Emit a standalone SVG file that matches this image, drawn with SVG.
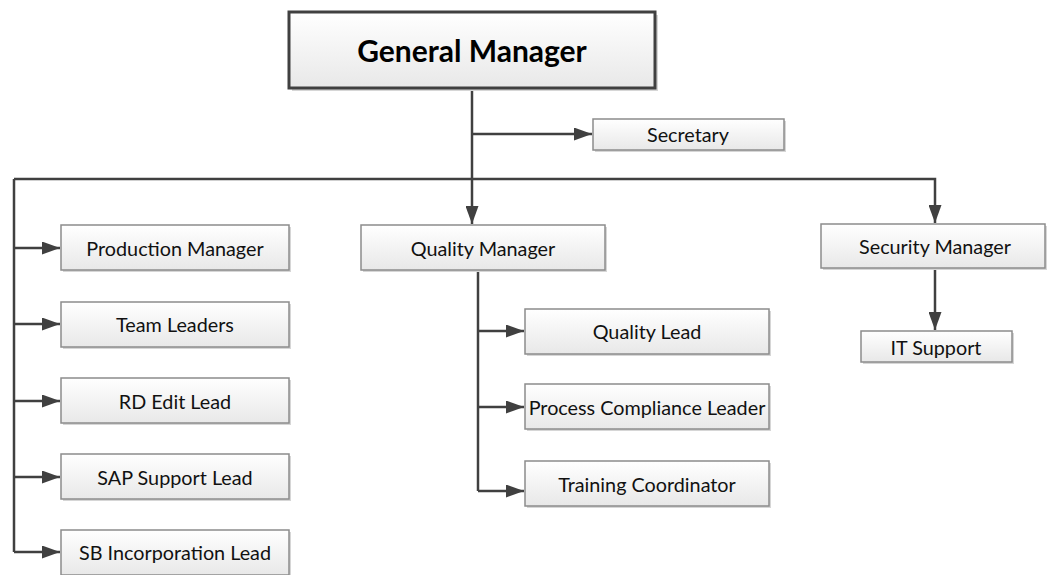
<svg xmlns="http://www.w3.org/2000/svg" width="1047" height="575" viewBox="0 0 1047 575">
<style>
.box{fill:url(#g);stroke:#8c8c8c;stroke-width:1.5}
.gm{fill:url(#g);stroke:#404040;stroke-width:3}
.sh{fill:#d6d6d6}
.t{font-family:Lato,"Open Sans",sans-serif;font-size:19.8px;fill:#111;text-anchor:middle;dominant-baseline:central}
.tb{font-family:Lato,"Open Sans",sans-serif;font-size:30px;font-weight:bold;fill:#000;text-anchor:middle;dominant-baseline:central}
.c{fill:none;stroke:#404040;stroke-width:2.5}
</style>
<defs>
<linearGradient id="g" x1="0" y1="0" x2="0" y2="1">
<stop offset="0" stop-color="#ffffff"/>
<stop offset="1" stop-color="#e8e8e8"/>
</linearGradient>
<marker id="a" viewBox="0 0 18 13" refX="18" refY="6.5" markerWidth="18" markerHeight="13" markerUnits="userSpaceOnUse" orient="auto">
<path d="M0,0 L18,6.5 L0,13 z" fill="#404040"/>
</marker>
</defs>
<rect width="1047" height="575" fill="#ffffff"/>
<g id="connectors">
<path class="c" d="M472,88 V224" marker-end="url(#a)"/>
<path class="c" d="M472,134 H592" marker-end="url(#a)"/>
<path class="c" d="M14,179 H935 V223" marker-end="url(#a)"/>
<path class="c" d="M14,179 V552"/>
<path class="c" d="M14,248 H60" marker-end="url(#a)"/>
<path class="c" d="M14,324 H60" marker-end="url(#a)"/>
<path class="c" d="M14,401 H60" marker-end="url(#a)"/>
<path class="c" d="M14,477 H60" marker-end="url(#a)"/>
<path class="c" d="M14,552 H60" marker-end="url(#a)"/>
<path class="c" d="M478,270 V491"/>
<path class="c" d="M478,331 H524" marker-end="url(#a)"/>
<path class="c" d="M478,407 H524" marker-end="url(#a)"/>
<path class="c" d="M478,491 H524" marker-end="url(#a)"/>
<path class="c" d="M935,268 V330" marker-end="url(#a)"/>
</g>
<g id="general-manager"><rect class="sh" x="292" y="15" width="366" height="76"/><rect class="gm" x="289" y="12" width="366" height="76"/><text class="tb" x="472" y="50">General Manager</text></g>
<g id="secretary"><rect class="sh" x="595" y="121" width="191" height="31"/><rect class="box" x="593" y="119" width="191" height="31"/><text class="t" x="688" y="134">Secretary</text></g>
<g id="production-manager"><rect class="sh" x="63" y="227" width="228" height="45"/><rect class="box" x="61" y="225" width="228" height="45"/><text class="t" x="175" y="248">Production Manager</text></g>
<g id="team-leaders"><rect class="sh" x="63" y="304" width="228" height="45"/><rect class="box" x="61" y="302" width="228" height="45"/><text class="t" x="175" y="324">Team Leaders</text></g>
<g id="rd-edit-lead"><rect class="sh" x="63" y="380" width="228" height="45"/><rect class="box" x="61" y="378" width="228" height="45"/><text class="t" x="175" y="401">RD Edit Lead</text></g>
<g id="sap-support-lead"><rect class="sh" x="63" y="456" width="228" height="45"/><rect class="box" x="61" y="454" width="228" height="45"/><text class="t" x="175" y="477">SAP Support Lead</text></g>
<g id="sb-incorporation-lead"><rect class="sh" x="63" y="532" width="228" height="45"/><rect class="box" x="61" y="530" width="228" height="45"/><text class="t" x="175" y="552">SB Incorporation Lead</text></g>
<g id="quality-manager"><rect class="sh" x="363" y="227" width="244" height="45"/><rect class="box" x="361" y="225" width="244" height="45"/><text class="t" x="483" y="248">Quality Manager</text></g>
<g id="quality-lead"><rect class="sh" x="527" y="311" width="244" height="45"/><rect class="box" x="525" y="309" width="244" height="45"/><text class="t" x="647" y="331">Quality Lead</text></g>
<g id="process-compliance-leader"><rect class="sh" x="527" y="386" width="244" height="45"/><rect class="box" x="525" y="384" width="244" height="45"/><text class="t" x="647" y="407">Process Compliance Leader</text></g>
<g id="training-coordinator"><rect class="sh" x="527" y="463" width="244" height="45"/><rect class="box" x="525" y="461" width="244" height="45"/><text class="t" x="647" y="484">Training Coordinator</text></g>
<g id="security-manager"><rect class="sh" x="823" y="226" width="224" height="44"/><rect class="box" x="821" y="224" width="224" height="44"/><text class="t" x="935" y="246">Security Manager</text></g>
<g id="it-support"><rect class="sh" x="863" y="333" width="151" height="31"/><rect class="box" x="861" y="331" width="151" height="31"/><text class="t" x="936" y="347">IT Support</text></g>
</svg>
